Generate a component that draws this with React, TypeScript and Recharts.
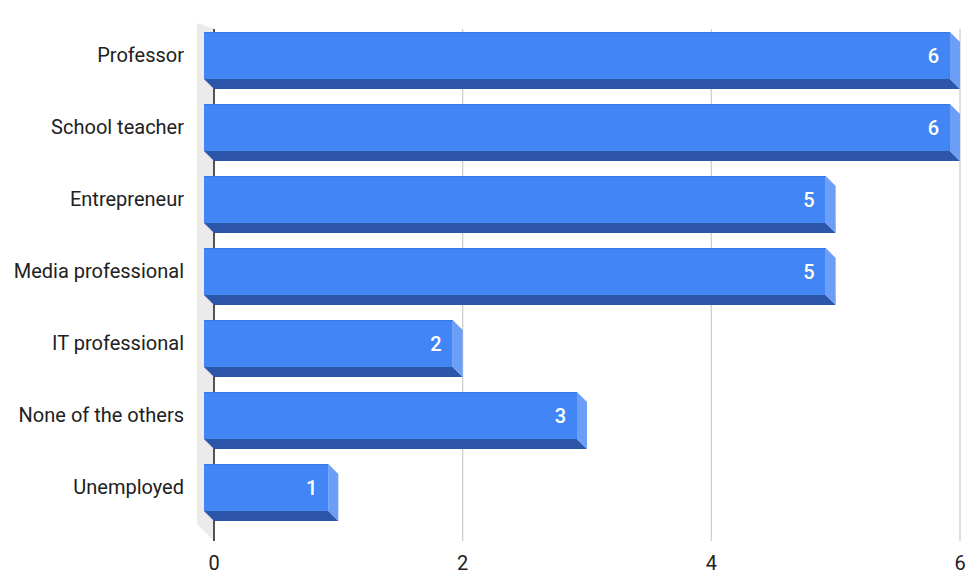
import React from 'react';
import { BarChart, Bar, XAxis, YAxis, CartesianGrid, LabelList, ReferenceLine } from 'recharts';

const occupations = [
  'Professor',
  'School teacher',
  'Entrepreneur',
  'Media professional',
  'IT professional',
  'None of the others',
  'Unemployed',
];
const counts = [6, 6, 5, 5, 2, 3, 1];
const xTicks = [0, 2, 4, 6];

const data = occupations.map((name, i) => ({ name, value: counts[i] }));

// depth of the fake 3D extrusion
const DEPTH = 10;
const FONT = 'Roboto, "Noto Sans", sans-serif';

const Box3D = (props: any) => {
  const { x, y, width, height } = props;
  if (!width || width <= 0) return null;
  const fx = x - DEPTH;
  const fy = y - DEPTH;
  const right = x + width;
  const bottom = y + height;
  return (
    <g>
      {/* bottom face */}
      <polygon
        points={`${fx},${fy + height} ${right - DEPTH},${fy + height} ${right},${bottom} ${x},${bottom}`}
        fill="#2d56a8"
      />
      {/* side face */}
      <polygon
        points={`${right - DEPTH},${fy} ${right},${y} ${right},${bottom} ${right - DEPTH},${fy + height}`}
        fill="#6b9ef6"
      />
      {/* front face */}
      <rect x={fx} y={fy} width={width} height={height} fill="#4285f4" />
      <line x1={fx} y1={fy + 0.5} x2={right - DEPTH} y2={fy + 0.5} stroke="#3a78e8" strokeWidth={1} />
    </g>
  );
};

const ValueLabel = (props: any) => {
  const { x, y, width, height, value } = props;
  return (
    <text
      x={x + width - DEPTH - 11}
      y={y - DEPTH + height / 2}
      dy="0.36em"
      textAnchor="end"
      fill="#ffffff"
      fontSize={20}
      fontWeight={500}
      fontFamily={FONT}
    >
      {value}
    </text>
  );
};

const CategoryTick = (props: any) => {
  const { x, y, payload } = props;
  return (
    <text x={x} y={y - DEPTH} dy="0.36em" textAnchor="end" fill="#212121" fontSize={20} fontFamily={FONT}>
      {payload.value}
    </text>
  );
};

const SideWall = (props: any) => {
  const { x1, y1, y2 } = props;
  return (
    <g>
      <polygon
        points={`${x1 - 17},${y1 - 17} ${x1},${y1} ${x1},${y2} ${x1 - 17},${y2 - 6}`}
        fill="#ebebeb"
      />
      <line x1={x1} y1={y1} x2={x1} y2={y2} stroke="#222" strokeWidth={1.5} />
    </g>
  );
};

export default function App() {
  return (
    <div style={{ width: 960, height: 566 }}>
      <BarChart
        width={960}
        height={566}
        data={data}
        layout="vertical"
        margin={{ top: 21, right: 8, bottom: 0, left: 0 }}
        barCategoryGap={0}
      >
        <CartesianGrid horizontal={false} vertical={true} stroke="#cccccc" strokeWidth={1.2} />
        <XAxis
          type="number"
          domain={[0, 6]}
          ticks={xTicks}
          axisLine={false}
          tickLine={false}
          tickSize={0}
          tickMargin={15}
          height={33}
          tick={{ fill: '#212121', fontSize: 20, fontFamily: FONT }}
        />
        <YAxis
          type="category"
          dataKey="name"
          width={206}
          axisLine={false}
          tickLine={false}
          tickSize={8}
          tickMargin={22}
          padding={{ top: 0, bottom: 8 }}
          tick={<CategoryTick />}
          interval={0}
        />
        <ReferenceLine x={0} shape={<SideWall />} zIndex={-50} />
        <Bar dataKey="value" barSize={47} shape={<Box3D />} isAnimationActive={false}>
          <LabelList dataKey="value" content={<ValueLabel />} />
        </Bar>
      </BarChart>
    </div>
  );
}
